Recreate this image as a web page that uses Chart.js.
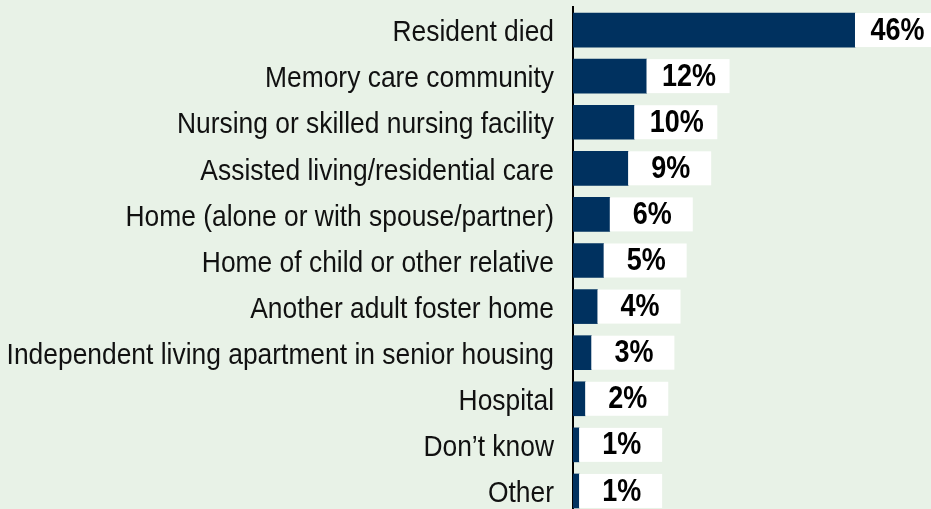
<!DOCTYPE html>
<html>
<head>
<meta charset="utf-8">
<script src="https://cdn.jsdelivr.net/npm/chart.js@4.4.1/dist/chart.umd.min.js"></script>
<style>
    html, body { margin: 0; padding: 0; background: #e8f2e7; overflow: hidden; }
    #wrap { width: 931px; height: 514px; }
</style>
</head>
<body>
<div id="wrap"><canvas id="moveOutChart" width="931" height="514"></canvas></div>
<script>
const categories = [
    'Resident died',
    'Memory care community',
    'Nursing or skilled nursing facility',
    'Assisted living/residential care',
    'Home (alone or with spouse/partner)',
    'Home of child or other relative',
    'Another adult foster home',
    'Independent living apartment in senior housing',
    'Hospital',
    'Don\u2019t know',
    'Other'
];
const percentValues = [46, 12, 10, 9, 6, 5, 4, 3, 2, 1, 1];
const valueLabels = ['46%', '12%', '10%', '9%', '6%', '5%', '4%', '3%', '2%', '1%', '1%'];

const barColor = '#00315f';
// no narrow face installed, so text is squeezed horizontally to look condensed
const baseFont = "'Liberation Sans', Arial, sans-serif";

// category names, right aligned against the axis
const categoryLabels = {
    id: 'categoryLabels',
    afterDraw(chart) {
        const ctx = chart.ctx;
        const yScale = chart.scales.y;
        const right = yScale.right - 19;
        ctx.save();
        ctx.fillStyle = '#111111';
        ctx.font = '30px ' + baseFont;
        ctx.textAlign = 'right';
        ctx.textBaseline = 'middle';
        categories.forEach((name, i) => {
            const y = yScale.getPixelForValue(i) + 3;
            ctx.save();
            ctx.translate(right, y);
            ctx.scale(0.88, 1);
            ctx.fillText(name, 0, 0);
            ctx.restore();
        });
        ctx.restore();
    }
};

// white box with the value, sitting right after each bar
const valueBoxes = {
    id: 'valueBoxes',
    afterDatasetsDraw(chart) {
        const ctx = chart.ctx;
        const meta = chart.getDatasetMeta(0);
        ctx.save();
        meta.data.forEach((bar, i) => {
            const h = bar.height;
            const top = bar.y - h / 2;
            const boxW = 83;
            ctx.fillStyle = '#ffffff';
            ctx.fillRect(bar.x, top, boxW, h);
            ctx.fillStyle = '#000000';
            ctx.font = 'bold 31px ' + baseFont;
            ctx.textAlign = 'center';
            ctx.textBaseline = 'middle';
            ctx.save();
            ctx.translate(bar.x + boxW / 2 + 1, bar.y + 1);
            ctx.scale(0.87, 1);
            ctx.fillText(valueLabels[i], 0, 0);
            ctx.restore();
        });
        ctx.restore();
    }
};

const ctx = document.getElementById('moveOutChart').getContext('2d');

new Chart(ctx, {
    type: 'bar',
    data: {
        labels: categories,
        datasets: [{
            data: percentValues,
            backgroundColor: barColor,
            borderWidth: 0,
            barThickness: 34
        }]
    },
    options: {
        indexAxis: 'y',
        responsive: false,
        animation: false,
        layout: { padding: { top: 7, right: 0, bottom: 0, left: 0 } },
        plugins: {
            legend: { display: false },
            tooltip: { enabled: false }
        },
        scales: {
            x: {
                display: false,
                min: 0,
                max: 58.4
            },
            y: {
                afterFit: scale => {
                    scale.width = 573;
                    scale.paddingTop = 0;
                    scale.paddingBottom = 0;
                },
                grid: { display: false, drawTicks: false },
                border: { display: true, color: '#000000', width: 2 },
                ticks: { display: false }
            }
        }
    },
    plugins: [valueBoxes, categoryLabels]
});
</script>
</body>
</html>
